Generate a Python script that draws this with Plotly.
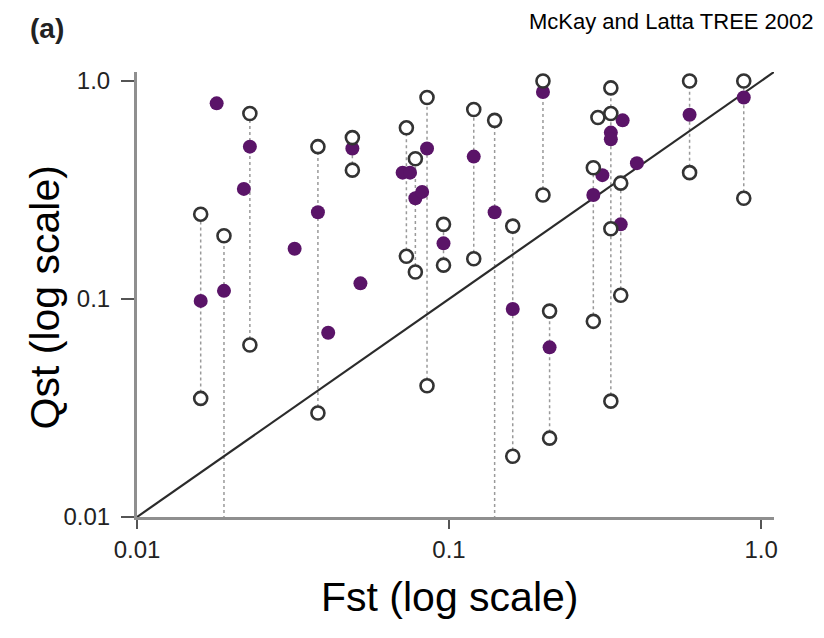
import plotly.graph_objects as go

# ---- data ----
# dotted ranges per locus: Fst, lower Qst, upper Qst
range_fst = [0.016, 0.019, 0.023, 0.038, 0.049, 0.073, 0.078, 0.085, 0.096, 0.12,
             0.14, 0.16, 0.20, 0.21, 0.29, 0.33, 0.355, 0.59, 0.88]
range_lo = [0.035, 0.001, 0.0615, 0.030, 0.39, 0.157, 0.133, 0.040, 0.143, 0.153,
            0.001, 0.019, 0.30, 0.023, 0.079, 0.034, 0.104, 0.38, 0.29]
range_hi = [0.245, 0.195, 0.71, 0.50, 0.55, 0.61, 0.44, 0.84, 0.22, 0.74,
            0.66, 0.216, 1.0, 0.088, 0.40, 0.93, 0.34, 1.0, 1.0]

# open circles
open_fst = [0.016, 0.016, 0.019, 0.023, 0.023, 0.038, 0.038, 0.049, 0.049, 0.073, 0.073,
            0.078, 0.078, 0.085, 0.085, 0.096, 0.096, 0.12, 0.12, 0.14, 0.16, 0.16,
            0.20, 0.20, 0.21, 0.21, 0.29, 0.29, 0.30, 0.33, 0.33, 0.33, 0.33,
            0.355, 0.355, 0.59, 0.59, 0.88, 0.88]
open_qst = [0.245, 0.035, 0.195, 0.71, 0.0615, 0.50, 0.030, 0.55, 0.39, 0.61, 0.157,
            0.44, 0.133, 0.84, 0.040, 0.22, 0.143, 0.74, 0.153, 0.66, 0.216, 0.019,
            1.0, 0.30, 0.088, 0.023, 0.40, 0.079, 0.68, 0.93, 0.71, 0.21, 0.034,
            0.34, 0.104, 1.0, 0.38, 1.0, 0.29]

# filled (purple) circles
filled_fst = [0.016, 0.018, 0.019, 0.023, 0.022, 0.032, 0.038, 0.041, 0.049, 0.052,
              0.071, 0.075, 0.078, 0.082, 0.085, 0.096, 0.12, 0.14, 0.16, 0.20,
              0.21, 0.29, 0.31, 0.33, 0.33, 0.36, 0.355, 0.40, 0.59, 0.88]
filled_qst = [0.098, 0.79, 0.109, 0.50, 0.32, 0.17, 0.25, 0.070, 0.49, 0.118,
              0.38, 0.38, 0.29, 0.31, 0.49, 0.18, 0.45, 0.25, 0.090, 0.89,
              0.060, 0.30, 0.37, 0.58, 0.54, 0.66, 0.22, 0.42, 0.70, 0.84]

diag = [0.01, 1.1]
tick_vals = [0.01, 0.1, 1.0]
tick_text = ["0.01", "0.1", "1.0"]

FONT = "Liberation Sans, Arial, sans-serif"
PURPLE = "#5a1468"

# dotted segments built from the range arrays
seg_x, seg_y = [], []
for f, lo, hi in zip(range_fst, range_lo, range_hi):
    seg_x += [f, f, None]
    seg_y += [lo, hi, None]

fig = go.Figure()
fig.add_trace(go.Scatter(x=seg_x, y=seg_y, mode="lines",
                         line=dict(color="#9a9a9a", width=1.5, dash="dot"),
                         hoverinfo="skip", showlegend=False))
fig.add_trace(go.Scatter(x=diag, y=diag, mode="lines",
                         line=dict(color="#2b2b2b", width=2.2),
                         showlegend=False))
fig.add_trace(go.Scatter(x=filled_fst, y=filled_qst, mode="markers",
                         marker=dict(size=14, color=PURPLE,
                                     line=dict(color=PURPLE, width=0)),
                         showlegend=False, cliponaxis=False))
fig.add_trace(go.Scatter(x=open_fst, y=open_qst, mode="markers",
                         marker=dict(size=13, color="white",
                                     line=dict(color="#333333", width=2.6)),
                         showlegend=False, cliponaxis=False))

axis_common = dict(
    type="log", tickvals=tick_vals, ticktext=tick_text,
    showgrid=False, zeroline=False,
    showline=True, linecolor="#8f8f8f", linewidth=3,
    ticks="outside", tickwidth=2, tickcolor="#555555",
    tickfont=dict(family=FONT, size=24, color="#222222"),
)
fig.update_xaxes(range=[-2, 0.0414], ticklen=9, **axis_common)
fig.update_yaxes(range=[-2, 0.0414], ticklen=13, ticklabelstandoff=6, **axis_common)

fig.update_layout(
    width=824, height=638,
    margin=dict(l=137, r=50, t=72, b=121),
    paper_bgcolor="white", plot_bgcolor="white",
    font=dict(family=FONT),
    annotations=[
        dict(text="Fst (log scale)", xref="paper", yref="paper",
             x=0.491, y=-0.18, xanchor="center", yanchor="middle",
             showarrow=False, font=dict(family=FONT, size=41, color="#000000")),
        dict(text="Qst (log scale)", xref="paper", yref="paper",
             x=-0.144, y=0.494, xanchor="center", yanchor="middle", textangle=-90,
             showarrow=False, font=dict(family=FONT, size=41, color="#000000")),
        dict(text="<b>(a)</b>", xref="paper", yref="paper",
             x=(47 - 137) / 637, y=(517 - 29) / 445, xanchor="center", yanchor="middle",
             showarrow=False, font=dict(family=FONT, size=28, color="#222222")),
        dict(text="McKay and Latta TREE 2002", xref="paper", yref="paper",
             x=(816 - 137) / 637, y=(517 - 21) / 445, xanchor="right", yanchor="middle",
             showarrow=False, font=dict(family=FONT, size=22, color="#000000")),
    ],
)

fig.write_html("out.html")
